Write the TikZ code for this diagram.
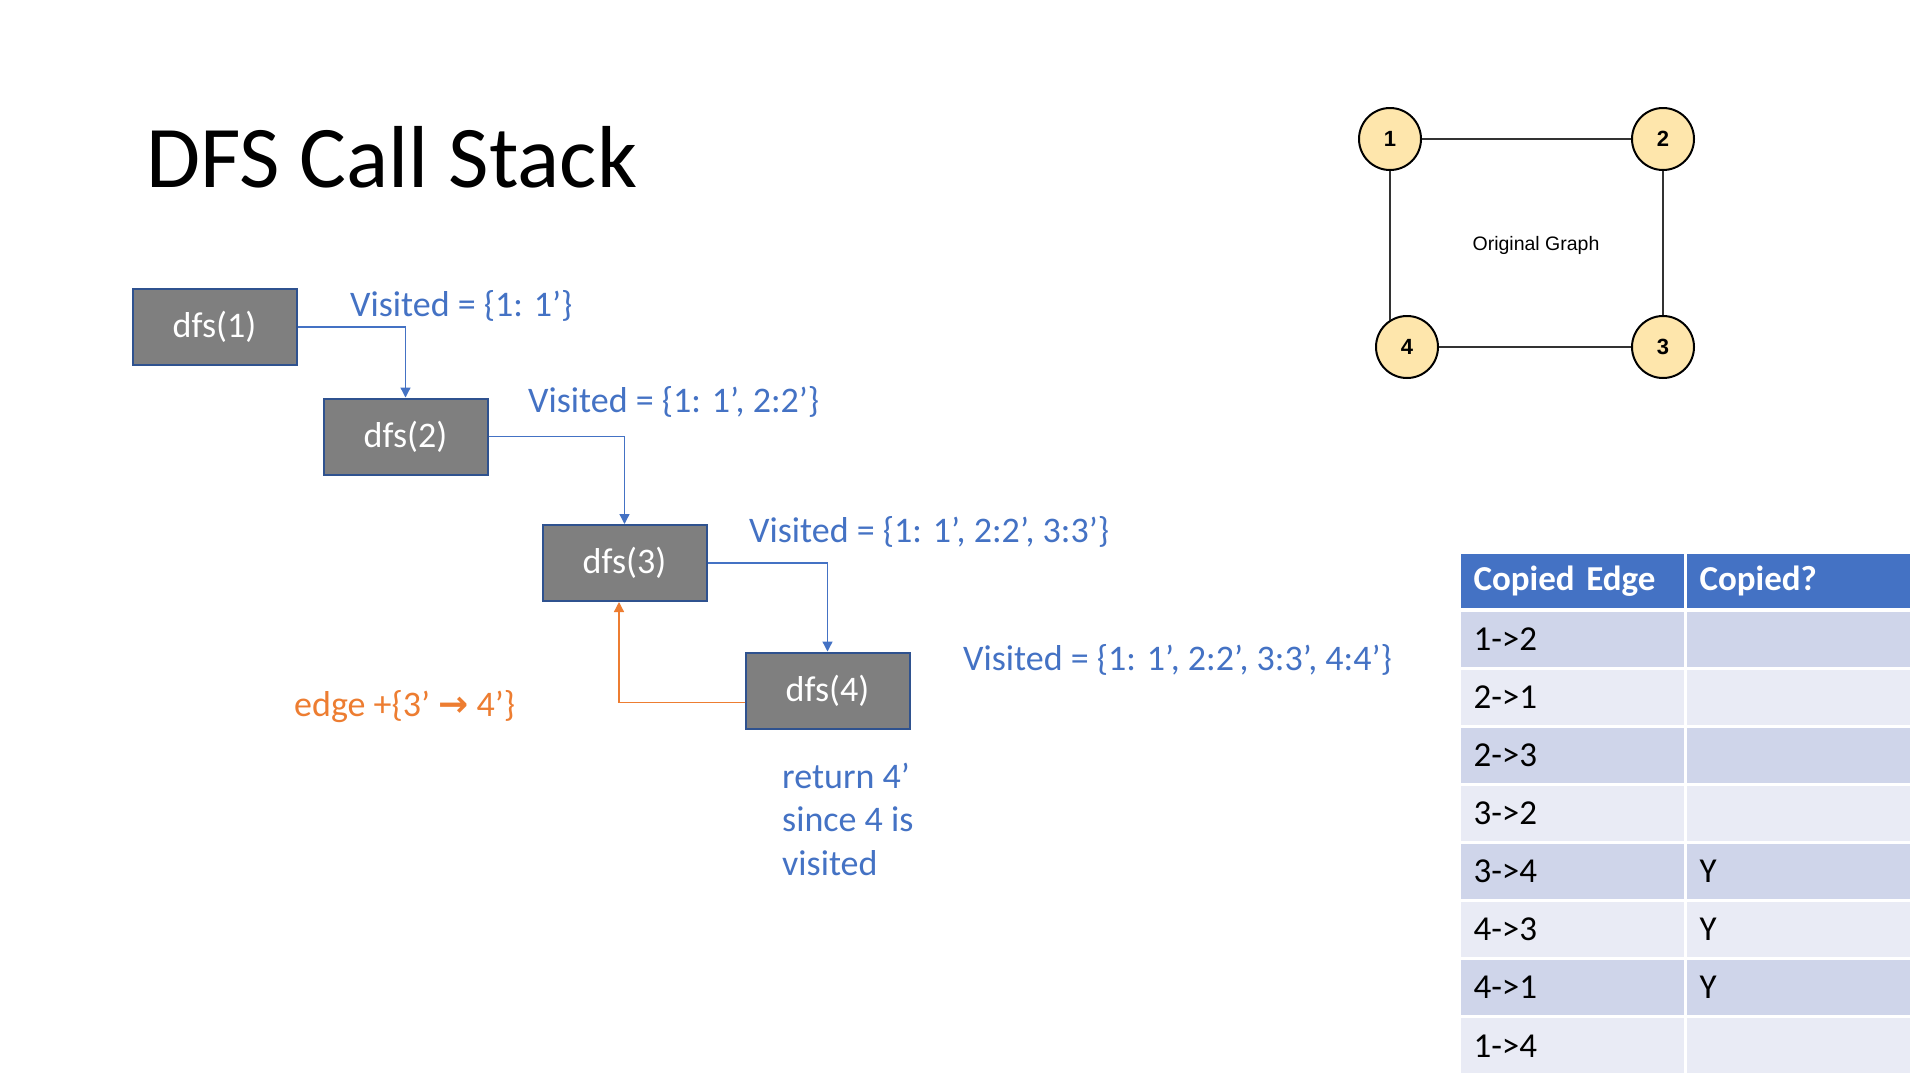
\documentclass[tikz,border=0pt]{standalone}
\usepackage{fontspec}
\setmainfont{Carlito}
\newfontfamily\arialfont{Liberation Sans}
\newfontfamily\symfont{DejaVu Sans}
\usetikzlibrary{arrows.meta}

\definecolor{callgray}{HTML}{7F7F7F}
\definecolor{callborder}{HTML}{2F528F}
\definecolor{textblue}{HTML}{4472C4}
\definecolor{edgeorange}{HTML}{ED7D31}
\definecolor{vertexfill}{HTML}{FEE6AC}
\definecolor{rowdark}{HTML}{CFD5EA}
\definecolor{rowlight}{HTML}{E9EBF5}

\begin{document}
\begin{tikzpicture}[x=1pt,y=-1pt,>={Triangle[width=10pt,length=10pt]},
    call node/.style={rectangle,draw=callborder,line width=2pt,fill=callgray,minimum width=164pt,minimum height=76pt,inner sep=0pt,text=white,font=\fontsize{36}{43}\selectfont},
    visit label/.style={anchor=base west,inner sep=0pt,text=textblue,font=\fontsize{36}{43.5}\selectfont},
    vertex node/.style={circle,draw,line width=2pt,fill=vertexfill,minimum size=62pt,inner sep=0pt,font=\arialfont\bfseries\fontsize{22}{26}\selectfont},
    cell/.style={rectangle,draw=white,line width=3pt,anchor=north west,minimum height=57pt,text width=198pt,inner xsep=14pt,inner ysep=0pt,align=left,font=\fontsize{35}{42}\selectfont},
    call edge/.style={->,textblue,line width=1.3pt},
    graph edge/.style={draw=black!80,line width=2pt}]

    \fill[white] (0,0) rectangle (1920,1080);
    \useasboundingbox (0,0) rectangle (1920,1080);

    \node[anchor=base west,inner sep=0pt,font=\fontsize{88}{100}\selectfont] (title) at (146,187) {DFS Call Stack};

    % call stack
    \node[call node] (d1) at (214.5,327) {dfs(1)};
    \node[call node] (d2) at (405.5,436.5) {dfs(2)};
    \node[call node] (d3) at (624.5,563) {dfs(3)};
    \node[call node] (d4) at (827.5,690.5) {dfs(4)};

    \draw[call edge] (d1.east) -| (d2.north);
    \draw[call edge] (d2.east) -| (d3.north);
    \draw[call edge] (d3.east) -| (d4.north);
    \draw[call edge,edgeorange] ([yshift=-12pt]d4.west) -| ([xshift=-5.5pt]d3.south);

    \node[visit label] (visit1) at (350,316) {Visited = \{1: 1’\}};
    \node[visit label] (visit2) at (528,412) {Visited = \{1: 1’, 2:2’\}};
    \node[visit label] (visit3) at (749,542) {Visited = \{1: 1’, 2:2’, 3:3’\}};
    \node[visit label] (visit4) at (963,670) {Visited = \{1: 1’, 2:2’, 3:3’, 4:4’\}};
    \node[visit label,text=edgeorange] (newedge) at (294,716) {edge +\{3’ {\symfont\bfseries →} 4’\}};
    \node[visit label,align=left] (ret) at (782,875) {return 4’\\since 4 is\\visited};

    % original graph
    \node[vertex node] (v1) at (1390,139) {1};
    \node[vertex node] (v2) at (1663,139) {2};
    \node[vertex node] (v3) at (1663,347) {3};
    \node[vertex node] (v4) at (1407,347) {4};
    \draw[graph edge] (v1) -- (v2);
    \draw[graph edge] (v2) -- (v3);
    \draw[graph edge] (v3) -- (v4);
    \draw[graph edge] (v1) -- (v1 |- v4.122);
    \node[font=\arialfont\fontsize{19.5}{23}\selectfont] (graphlabel) at (1536,245) {Original Graph};

    % copied edges table
    \node[cell,fill=textblue,text=white,minimum height=57pt,font=\bfseries\fontsize{35}{42}\selectfont] (headedge) at (1458,551) {Copied Edge};
    \node[cell,fill=textblue,text=white,minimum height=57pt,font=\bfseries\fontsize{35}{42}\selectfont] (headcopied) at (1684,551) {Copied?};
    \foreach \edge/\copied [count=\r] in {1->2/,2->1/,2->3/,3->2/,3->4/Y,4->3/Y,4->1/Y,1->4/}{
        \ifodd\r \def\rowcol{rowdark}\else \def\rowcol{rowlight}\fi
        \node[cell,fill=\rowcol,minimum height=58.1pt] (edge\r) at (1458,{608.5+58.1*(\r-1)}) {\edge};
        \node[cell,fill=\rowcol,minimum height=58.1pt] (copied\r) at (1684,{608.5+58.1*(\r-1)}) {\copied};
    }
\end{tikzpicture}
\end{document}
